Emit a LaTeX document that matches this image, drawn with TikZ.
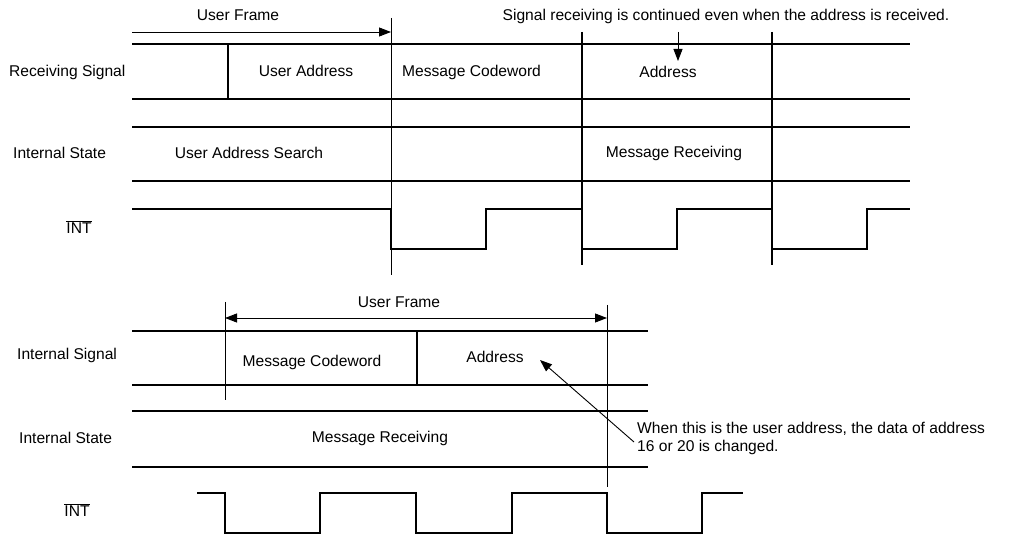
\documentclass[tikz,border=0pt]{standalone}
\usepackage{fontspec}
\setmainfont{Liberation Sans}
\usetikzlibrary{arrows.meta}
\begin{document}
\begin{tikzpicture}[x=1pt,y=-1pt,
  lbl/.style={inner sep=0pt, font=\fontsize{15.6}{18}\selectfont},
  rowline/.style={line width=1.6pt},
  divider/.style={line width=1.1pt},
  guide/.style={line width=0.7pt},
  wave/.style={line width=1.7pt, line join=miter},
  tip/.style={-{Triangle[length=12pt,width=9pt]}, line width=0.9pt},
  bitip/.style={{Triangle[length=12pt,width=9pt]}-{Triangle[length=12pt,width=9pt]}, line width=0.9pt},
]
\useasboundingbox (0,0) rectangle (1012,537);

% ---------------- upper chart: receiving the user frame ----------------
% row boundaries
\coordinate (rsTopL) at (132,44);  \coordinate (rsTopR) at (910,44);
\coordinate (rsBotL) at (132,99);  \coordinate (rsBotR) at (910,99);
\coordinate (isTopL) at (132,127); \coordinate (isTopR) at (910,127);
\coordinate (isBotL) at (132,181); \coordinate (isBotR) at (910,181);
\draw[rowline] (rsTopL) -- (rsTopR);
\draw[rowline] (rsBotL) -- (rsBotR);
\draw[rowline] (isTopL) -- (isTopR);
\draw[rowline] (isBotL) -- (isBotR);

% field dividers and time markers
\draw[divider] (228,44) -- (228,99);
\coordinate (mkA1) at (391,18);  \coordinate (mkA2) at (391,275);
\draw[guide] (mkA1) -- (mkA2);
\coordinate (mkB1) at (582,32);  \coordinate (mkB2) at (582,265);
\draw[divider] (mkB1) -- (mkB2);
\coordinate (mkC1) at (772,32);  \coordinate (mkC2) at (772,265);
\draw[divider] (mkC1) -- (mkC2);

% user frame span
\coordinate (ufA) at (132,32); \coordinate (ufB) at (391,32);
\draw[tip] (ufA) -- (ufB);

% note arrow pointing into the address field
\coordinate (dnTail) at (678,32); \coordinate (dnTip) at (678,61);
\draw[tip] (dnTail) -- (dnTip);

% /INT waveform
\coordinate (intA) at (132,209);
\draw[wave] (intA) -| (391,249) -| (486,209) -| (582,249) -| (677,209)
  -| (772,249) -| (867,209) -- (910,209);

% labels
\node[lbl, anchor=west] (rsLabel) at (9,72) {Receiving Signal};
\node[lbl, anchor=west] (isLabel) at (13,153) {Internal State};
\node[lbl] (intLabel) at (79,227) {$\overline{\mbox{INT}}$};
\node[lbl] (ufLabel) at (238,15) {User Frame};
\node[lbl] (noteTop) at (726,16) {Signal receiving is continued even when the address is received.};
\node[lbl] (userAddr) at (306,71) {User Address};
\node[lbl, anchor=west] (msgCw) at (402,72) {Message Codeword};
\node[lbl] (addrTop) at (668,72) {Address};
\node[lbl] (uaSearch) at (249,153) {User Address Search};
\node[lbl] (msgRecv) at (674,153) {Message Receiving};

% ---------------- lower chart: address inside the message ----------------
\coordinate (s2TopL) at (132,331); \coordinate (s2TopR) at (648,331);
\coordinate (s2BotL) at (132,385); \coordinate (s2BotR) at (648,385);
\coordinate (t2TopL) at (132,411); \coordinate (t2TopR) at (648,411);
\coordinate (t2BotL) at (132,467); \coordinate (t2BotR) at (648,467);
\draw[rowline] (s2TopL) -- (s2TopR);
\draw[rowline] (s2BotL) -- (s2BotR);
\draw[rowline] (t2TopL) -- (t2TopR);
\draw[rowline] (t2BotL) -- (t2BotR);

\coordinate (mkD1) at (225,302); \coordinate (mkD2) at (225,400);
\draw[guide] (mkD1) -- (mkD2);
\draw[divider] (417,331) -- (417,385);
\coordinate (mkE1) at (607,305); \coordinate (mkE2) at (607,487);
\draw[guide] (mkE1) -- (mkE2);

\coordinate (uf2A) at (225,318); \coordinate (uf2B) at (607,318);
\draw[bitip] (uf2A) -- (uf2B);

\coordinate (int2A) at (197,493);
\draw[wave] (int2A) -| (225,533) -| (320,493) -| (416,533) -| (512,493)
  -| (607,533) -| (702,493) -- (743,493);

\node[lbl] (uf2Label) at (399,302) {User Frame};
\node[lbl, anchor=west] (isigLabel) at (17,355) {Internal Signal};
\node[lbl] (msgCw2) at (312,362) {Message Codeword};
\node[lbl] (addr2) at (495,357) {Address};
\node[lbl, anchor=west] (ist2Label) at (19,438) {Internal State};
\node[lbl] (msgRecv2) at (380,438) {Message Receiving};
\node[lbl] (int2Label) at (77,510) {$\overline{\mbox{INT}}$};
\node[lbl, anchor=west, align=left] (noteBot) at (637,438)
  {When this is the user address, the data of address\\16 or 20 is changed.};

\coordinate (noteTail) at (634,442); \coordinate (noteTip) at (540,360);
\draw[tip] (noteTail) -- (noteTip);
\end{tikzpicture}
\end{document}
